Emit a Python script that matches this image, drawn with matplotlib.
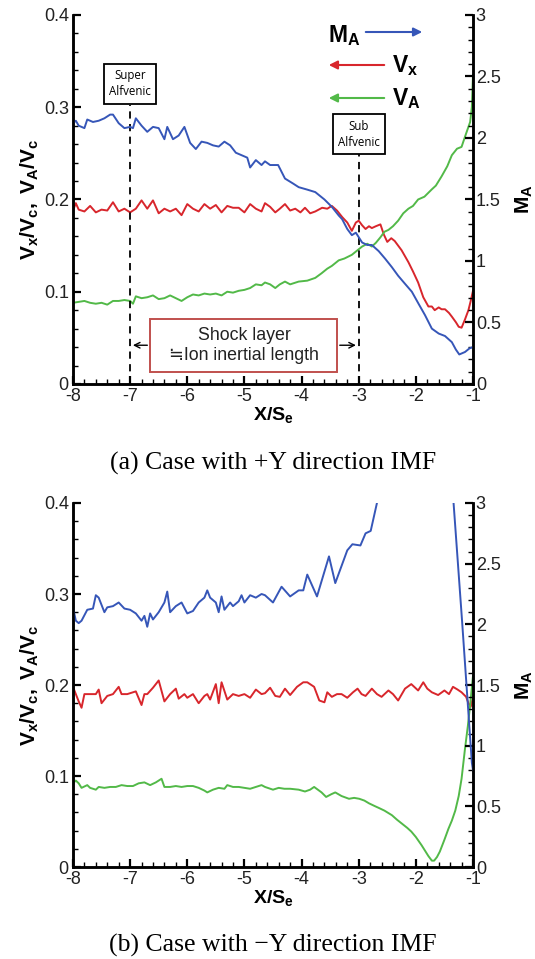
import numpy as np
import matplotlib
matplotlib.use('Agg')
import matplotlib.pyplot as plt
from matplotlib.ticker import MultipleLocator
from matplotlib.patches import Rectangle, FancyArrowPatch

plt.rcParams['font.family'] = ['Liberation Sans', 'DejaVu Sans']
plt.rcParams['mathtext.fontset'] = 'custom'
plt.rcParams['mathtext.rm'] = 'Liberation Sans'
plt.rcParams['mathtext.it'] = 'Liberation Sans:italic'
plt.rcParams['mathtext.bf'] = 'Liberation Sans:bold'

BLUE = '#3656b8'
RED = '#d8262c'
GREEN = '#52b948'

# ---- panel (a): +Y direction IMF ----
a_ma_x = [-8.0, -7.95, -7.9, -7.8, -7.75, -7.65, -7.55, -7.45, -7.35, -7.3, -7.2, -7.1, -7.0, -6.95,
          -6.9, -6.8, -6.7, -6.6, -6.5, -6.4, -6.35, -6.25, -6.15, -6.05, -5.95, -5.85, -5.75, -5.65,
          -5.55, -5.45, -5.35, -5.25, -5.15, -5.05, -4.95, -4.9, -4.8, -4.7, -4.64, -4.55, -4.41,
          -4.29, -4.15, -4.05, -3.9, -3.76, -3.6, -3.47, -3.35, -3.29, -3.2, -3.12, -3.05, -2.94,
          -2.85, -2.77, -2.65, -2.54, -2.42, -2.31, -2.2, -2.07, -1.95, -1.84, -1.72, -1.6, -1.49,
          -1.37, -1.3, -1.24, -1.14, -1.06, -1.0]
a_ma = [2.12, 2.14, 2.10, 2.08, 2.15, 2.13, 2.14, 2.16, 2.19, 2.19, 2.12, 2.08, 2.09, 2.08,
        2.16, 2.10, 2.05, 2.09, 2.08, 1.99, 2.09, 1.99, 2.02, 2.09, 1.96, 1.91, 1.97, 1.96,
        1.94, 1.93, 1.97, 1.94, 1.88, 1.86, 1.84, 1.76, 1.82, 1.78, 1.81, 1.78, 1.78,
        1.67, 1.63, 1.60, 1.58, 1.56, 1.50, 1.44, 1.37, 1.34, 1.26, 1.21, 1.23, 1.15,
        1.13, 1.13, 1.08, 1.02, 0.95, 0.88, 0.82, 0.75, 0.65, 0.56, 0.45, 0.41, 0.39,
        0.34, 0.28, 0.24, 0.26, 0.29, 0.30]

a_vx_x = [-8.0, -7.95, -7.9, -7.8, -7.7, -7.6, -7.5, -7.4, -7.3, -7.2, -7.1, -7.0, -6.9, -6.8,
          -6.7, -6.6, -6.5, -6.4, -6.3, -6.2, -6.1, -6.0, -5.9, -5.8, -5.7, -5.6, -5.5, -5.4,
          -5.3, -5.2, -5.1, -5.0, -4.9, -4.8, -4.7, -4.64, -4.55, -4.46, -4.38, -4.29, -4.2,
          -4.11, -4.02, -3.94, -3.85, -3.76, -3.64, -3.55, -3.47, -3.38, -3.29, -3.2, -3.12,
          -3.05, -3.0, -2.94, -2.88, -2.82, -2.77, -2.7, -2.62, -2.56, -2.5, -2.43, -2.37,
          -2.25, -2.13, -2.05, -1.96, -1.87, -1.78, -1.72, -1.67, -1.6, -1.55, -1.49, -1.42,
          -1.37, -1.3, -1.25, -1.2, -1.14, -1.08, -1.04, -1.0]
a_vx = [0.188, 0.196, 0.189, 0.187, 0.193, 0.186, 0.189, 0.188, 0.197, 0.187, 0.190, 0.186, 0.190, 0.199,
        0.190, 0.199, 0.185, 0.190, 0.187, 0.190, 0.183, 0.195, 0.190, 0.187, 0.195, 0.190, 0.194, 0.186,
        0.193, 0.191, 0.191, 0.186, 0.195, 0.190, 0.187, 0.196, 0.192, 0.186, 0.190, 0.195, 0.188,
        0.190, 0.186, 0.191, 0.185, 0.187, 0.191, 0.190, 0.193, 0.188, 0.181, 0.175, 0.166,
        0.175, 0.177, 0.172, 0.168, 0.171, 0.169, 0.171, 0.173, 0.162, 0.154, 0.158, 0.155,
        0.145, 0.132, 0.122, 0.110, 0.094, 0.084, 0.084, 0.080, 0.083, 0.081, 0.081, 0.077,
        0.073, 0.067, 0.062, 0.061, 0.070, 0.080, 0.090, 0.101]

a_va_x = [-8.0, -7.9, -7.8, -7.7, -7.6, -7.5, -7.4, -7.3, -7.2, -7.1, -7.0, -6.95, -6.9, -6.8,
          -6.7, -6.6, -6.5, -6.4, -6.3, -6.2, -6.1, -6.0, -5.9, -5.8, -5.7, -5.6, -5.5, -5.4,
          -5.3, -5.2, -5.1, -5.0, -4.9, -4.8, -4.7, -4.64, -4.55, -4.46, -4.38, -4.29, -4.2,
          -4.05, -3.9, -3.76, -3.65, -3.55, -3.47, -3.35, -3.25, -3.12, -3.0, -2.94, -2.85,
          -2.77, -2.7, -2.62, -2.55, -2.48, -2.4, -2.31, -2.22, -2.13, -2.05, -1.96, -1.85,
          -1.72, -1.65, -1.55, -1.45, -1.37, -1.28, -1.2, -1.14, -1.05, -1.02, -1.0]
a_va = [0.088, 0.089, 0.090, 0.088, 0.087, 0.088, 0.086, 0.090, 0.090, 0.091, 0.090, 0.087, 0.095, 0.093,
        0.094, 0.096, 0.092, 0.093, 0.096, 0.093, 0.090, 0.094, 0.097, 0.096, 0.098, 0.097, 0.098, 0.096,
        0.100, 0.099, 0.101, 0.102, 0.104, 0.108, 0.107, 0.110, 0.108, 0.104, 0.108, 0.111, 0.108,
        0.111, 0.112, 0.115, 0.120, 0.125, 0.128, 0.134, 0.136, 0.140, 0.146, 0.149, 0.152,
        0.149, 0.153, 0.159, 0.165, 0.167, 0.171, 0.177, 0.185, 0.190, 0.193, 0.200, 0.203,
        0.211, 0.215, 0.225, 0.236, 0.248, 0.255, 0.257, 0.268, 0.284, 0.300, 0.335]

# ---- panel (b): -Y direction IMF ----
b_ma_x = [-8.0, -7.95, -7.9, -7.85, -7.75, -7.65, -7.6, -7.55, -7.45, -7.4, -7.3, -7.2, -7.1, -7.0,
          -6.9, -6.8, -6.75, -6.7, -6.65, -6.6, -6.5, -6.4, -6.35, -6.3, -6.2, -6.1, -6.0, -5.9,
          -5.8, -5.7, -5.65, -5.6, -5.5, -5.45, -5.4, -5.35, -5.25, -5.2, -5.1, -5.05, -5.0,
          -4.9, -4.8, -4.7, -4.64, -4.5, -4.35, -4.2, -4.05, -3.97, -3.9, -3.73, -3.52, -3.41,
          -3.2, -3.11, -2.97, -2.88, -2.79, -2.6, -1.45, -1.34, -1.19, -1.02, -1.0]
b_ma = [2.14, 2.03, 2.01, 2.03, 2.12, 2.13, 2.24, 2.22, 2.10, 2.14, 2.15, 2.18, 2.13, 2.12,
        2.09, 2.03, 2.07, 1.98, 2.09, 2.04, 2.10, 2.18, 2.27, 2.10, 2.15, 2.18, 2.09, 2.11,
        2.18, 2.22, 2.28, 2.22, 2.18, 2.10, 2.23, 2.12, 2.18, 2.15, 2.19, 2.24, 2.18,
        2.24, 2.22, 2.25, 2.24, 2.18, 2.31, 2.23, 2.28, 2.28, 2.41, 2.23, 2.56, 2.34,
        2.61, 2.66, 2.65, 2.75, 2.77, 3.17, 3.74, 3.00, 2.02, 0.86, 0.80]

b_vx_x = [-8.0, -7.95, -7.9, -7.85, -7.8, -7.7, -7.6, -7.55, -7.5, -7.4, -7.3, -7.2, -7.15, -7.05,
          -7.0, -6.9, -6.8, -6.75, -6.7, -6.6, -6.5, -6.4, -6.3, -6.2, -6.15, -6.05, -6.0, -5.9,
          -5.8, -5.7, -5.65, -5.6, -5.5, -5.45, -5.4, -5.3, -5.2, -5.1, -5.0, -4.9, -4.8, -4.7,
          -4.64, -4.55, -4.46, -4.38, -4.29, -4.2, -4.08, -3.97, -3.9, -3.78, -3.69, -3.6, -3.55,
          -3.47, -3.38, -3.3, -3.2, -3.1, -3.02, -2.95, -2.88, -2.77, -2.68, -2.6, -2.48, -2.4,
          -2.31, -2.19, -2.08, -1.96, -1.87, -1.8, -1.72, -1.61, -1.5, -1.42, -1.35, -1.27,
          -1.2, -1.12, -1.08, -1.04, -1.0]
b_vx = [0.198, 0.190, 0.182, 0.175, 0.190, 0.190, 0.190, 0.195, 0.180, 0.188, 0.190, 0.198, 0.190, 0.190,
        0.191, 0.193, 0.178, 0.190, 0.190, 0.197, 0.205, 0.182, 0.190, 0.196, 0.185, 0.190, 0.186, 0.190,
        0.180, 0.188, 0.190, 0.184, 0.201, 0.180, 0.203, 0.184, 0.190, 0.188, 0.190, 0.186, 0.195, 0.190,
        0.191, 0.197, 0.188, 0.187, 0.196, 0.189, 0.198, 0.203, 0.203, 0.198, 0.183, 0.181, 0.192,
        0.187, 0.190, 0.190, 0.186, 0.192, 0.196, 0.190, 0.188, 0.196, 0.190, 0.187, 0.194, 0.190,
        0.183, 0.196, 0.201, 0.194, 0.203, 0.196, 0.192, 0.189, 0.194, 0.190, 0.198, 0.195,
        0.192, 0.187, 0.180, 0.176, 0.186]

b_va_x = [-8.0, -7.95, -7.9, -7.85, -7.75, -7.7, -7.6, -7.55, -7.45, -7.35, -7.25, -7.15, -7.05, -6.95,
          -6.85, -6.75, -6.65, -6.55, -6.45, -6.4, -6.3, -6.2, -6.1, -6.0, -5.9, -5.8, -5.7, -5.65,
          -5.55, -5.45, -5.35, -5.3, -5.2, -5.1, -5.0, -4.9, -4.8, -4.7, -4.64, -4.5, -4.4, -4.3,
          -4.2, -4.05, -3.94, -3.85, -3.78, -3.65, -3.57, -3.48, -3.41, -3.3, -3.17, -3.08, -2.99,
          -2.9, -2.82, -2.72, -2.65, -2.55, -2.42, -2.33, -2.25, -2.15, -2.08, -2.0, -1.9, -1.82,
          -1.78, -1.72, -1.68, -1.63, -1.58, -1.5, -1.43, -1.37, -1.31, -1.25, -1.2, -1.14, -1.09,
          -1.05, -1.0]
b_va = [0.092, 0.095, 0.092, 0.087, 0.090, 0.087, 0.085, 0.088, 0.087, 0.088, 0.088, 0.090, 0.089, 0.089,
        0.092, 0.093, 0.090, 0.093, 0.097, 0.088, 0.088, 0.089, 0.088, 0.089, 0.089, 0.087, 0.084, 0.082,
        0.085, 0.087, 0.086, 0.090, 0.088, 0.088, 0.087, 0.086, 0.088, 0.090, 0.088, 0.085, 0.087, 0.086,
        0.086, 0.085, 0.083, 0.085, 0.088, 0.082, 0.077, 0.080, 0.082, 0.078, 0.075, 0.076, 0.075,
        0.073, 0.070, 0.067, 0.065, 0.062, 0.057, 0.052, 0.048, 0.043, 0.039, 0.033, 0.024, 0.016,
        0.012, 0.007, 0.007, 0.011, 0.017, 0.030, 0.042, 0.051, 0.062, 0.078, 0.097, 0.130, 0.155,
        0.178, 0.210]

fig = plt.figure(figsize=(5.35, 9.59), dpi=100)
fig.patch.set_facecolor('white')


def setup_panel(rect, caption, vx_x, vx, va_x, va, ma_x, ma):
    ax = fig.add_axes(rect)
    ax2 = ax.twinx()
    ax.plot(vx_x, vx, color=RED, lw=1.4)
    ax.plot(va_x, va, color=GREEN, lw=1.4)
    ax2.plot(ma_x, ma, color=BLUE, lw=1.4)
    ax.set_xlim(-8, -1)
    ax.set_ylim(0, 0.4)
    ax2.set_ylim(0, 3)
    ax.xaxis.set_minor_locator(MultipleLocator(0.2))
    ax.yaxis.set_minor_locator(MultipleLocator(0.02))
    ax2.yaxis.set_minor_locator(MultipleLocator(0.1))
    ax.set_xticks(range(-8, 0))
    ax.set_xticklabels([str(v) for v in range(-8, 0)])
    ax.set_yticks([0, 0.1, 0.2, 0.3, 0.4])
    ax.set_yticklabels(['0', '0.1', '0.2', '0.3', '0.4'])
    ax2.set_yticks([0, 0.5, 1, 1.5, 2, 2.5, 3])
    ax2.set_yticklabels(['0', '0.5', '1', '1.5', '2', '2.5', '3'])
    for a in (ax, ax2):
        a.spines['top'].set_visible(False)
        for s in ('left', 'right', 'bottom'):
            a.spines[s].set_linewidth(1.8)
        a.tick_params(which='major', direction='in', length=6, width=1.6, labelsize=13,
                      pad=3, labelcolor='#222222')
        a.tick_params(which='minor', direction='in', length=3.5, width=1.0)
    ax.tick_params(axis='y', right=False)
    ax.tick_params(axis='x', top=False)
    ax2.tick_params(axis='y', left=False, pad=2)
    ax.set_ylabel(r'$\mathbf{V_x/V_c,\ V_A/V_c}$', fontsize=15, labelpad=2)
    ax2.set_ylabel(r'$\mathbf{M_A}$', fontsize=15, labelpad=9)
    ax.set_xlabel(r'$\mathbf{X/S_e}$', fontsize=14, labelpad=0)
    ax.text(0.5, -0.215, caption, transform=ax.transAxes, ha='center', va='center',
            fontsize=18.5, family=['Liberation Serif', 'DejaVu Serif'])
    return ax, ax2


ax_a, ax_a2 = setup_panel([0.1364, 0.5996, 0.7477, 0.3848], '(a) Case with +Y direction IMF',
                          a_vx_x, a_vx, a_va_x, a_va, a_ma_x, a_ma)
ax_b, ax_b2 = setup_panel([0.1364, 0.0959, 0.7477, 0.3796], '(b) Case with \u2212Y direction IMF',
                          b_vx_x, b_vx, b_va_x, b_va, b_ma_x, b_ma)

# annotations panel (a)
ax_a.plot([-7, -7], [0, 0.302], color='black', lw=1.3, ls=(0, (4, 3)))
ax_a.plot([-3, -3], [0, 0.249], color='black', lw=1.3, ls=(0, (4, 3)))
ax_a.text(-7, 0.3255, 'Super\nAlfvenic', ha='center', va='center', fontsize=8.3,
          family=['Open Sans', 'DejaVu Sans'], linespacing=1.35,
          bbox=dict(boxstyle='square,pad=0.45', fc='white', ec='black', lw=1.3))
ax_a.text(-3, 0.2705, 'Sub\nAlfvenic', ha='center', va='center', fontsize=8.3,
          family=['Open Sans', 'DejaVu Sans'], linespacing=1.35,
          bbox=dict(boxstyle='square,pad=0.45', fc='white', ec='black', lw=1.3))
ax_a.add_patch(Rectangle((-6.65, 0.013), 3.27, 0.057, fc='white', ec='#c0504d', lw=1.4, zorder=3))
ax_a.text(-5.0, 0.0415, 'Shock layer\n\u2252Ion inertial length', ha='center', va='center',
          fontsize=12.8, linespacing=1.25, family=['Liberation Sans', 'DejaVu Sans'],
          color='#222222', zorder=4)
ax_a.annotate('', xy=(-7, 0.042), xytext=(-6.65, 0.042),
              arrowprops=dict(arrowstyle='->', color='black', lw=1.0))
ax_a.annotate('', xy=(-3, 0.042), xytext=(-3.38, 0.042),
              arrowprops=dict(arrowstyle='->', color='black', lw=1.0))

# legend-like labels with arrows
fig.text(328 / 535, 1 - 36 / 959, r'$\mathbf{M_A}$', fontsize=16.5, ha='left', va='center')
fig.text(392 / 535, 1 - 66 / 959, r'$\mathbf{V_x}$', fontsize=16.5, ha='left', va='center')
fig.text(392 / 535, 1 - 99 / 959, r'$\mathbf{V_A}$', fontsize=16.5, ha='left', va='center')
for (x0, x1, yy, c) in [(363, 425, 32, BLUE), (387, 326, 65, RED), (387, 326, 98, GREEN)]:
    fig.add_artist(FancyArrowPatch(
        (x0 / 535, 1 - yy / 959), (x1 / 535, 1 - yy / 959), transform=fig.transFigure,
        arrowstyle='-|>,head_length=5,head_width=2.5', color=c, lw=1.5))

fig.savefig('out.png', dpi=100, facecolor='white')
